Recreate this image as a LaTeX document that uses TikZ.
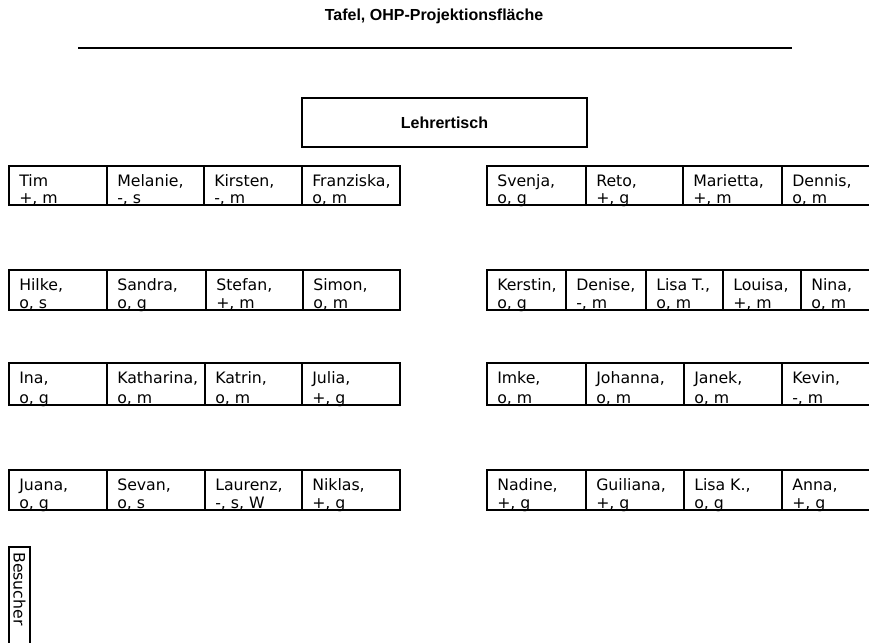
\documentclass[tikz,border=0pt]{standalone}
\usepackage{fontspec}
\setmainfont{Liberation Sans}
\newfontfamily\seatfont{DejaVu Sans}
\tikzset{
  seatline/.style={draw=black, line width=1.1pt},
  seattext/.style={inner sep=0pt, font=\seatfont\fontsize{11.8}{13}\selectfont},
  headtext/.style={inner sep=0pt, font=\bfseries\fontsize{12}{14}\selectfont},
}
% \seat{name}{x1}{x2}{y1}{y2}{line1}{line2}
\newcommand\seat[7]{%
  \draw[seatline] (#2,#4) rectangle (#3,#5);
  \node[seattext, anchor=base west] (#1a) at (#2+10,#4+20) {#6};
  \node[seattext, anchor=base west] (#1b) at (#2+10,#5-2) {#7};
}
\begin{document}
\begin{tikzpicture}[x=0.75pt,y=-0.75pt]
\useasboundingbox (0,0) rectangle (869,643);
\clip (0,0) rectangle (869,643);
% board
\node[headtext] (tafel) at (434,16) {Tafel, OHP-Projektionsfläche};
\coordinate (lineL) at (78,48);
\coordinate (lineR) at (792,48);
\draw[line width=1.5pt] (lineL) -- (lineR);
% teacher desk
\node[draw, line width=1.3pt, minimum width=285*0.75pt, minimum height=49*0.75pt, headtext] (lehrer) at (444.5,122.5) {Lehrertisch};
% row 1
\seat{a1}{9}{107}{166}{205}{Tim}{+, m}
\seat{a2}{107}{204}{166}{205}{Melanie,}{-, s}
\seat{a3}{204}{302}{166}{205}{Kirsten,}{-, m}
\seat{a4}{302}{400}{166}{205}{Franziska,}{o, m}
\seat{b1}{487}{586}{166}{205}{Svenja,}{o, g}
\seat{b2}{586}{683}{166}{205}{Reto,}{+, g}
\seat{b3}{683}{782}{166}{205}{Marietta,}{+, m}
\seat{b4}{782}{885}{166}{205}{Dennis,}{o, m}
% row 2
\seat{c1}{9}{107}{270}{310}{Hilke,}{o, s}
\seat{c2}{107}{206}{270}{310}{Sandra,}{o, g}
\seat{c3}{206}{303}{270}{310}{Stefan,}{+, m}
\seat{c4}{303}{400}{270}{310}{Simon,}{o, m}
\seat{d1}{487}{566}{270}{310}{Kerstin,}{o, g}
\seat{d2}{566}{646}{270}{310}{Denise,}{-, m}
\seat{d3}{646}{723}{270}{310}{Lisa T.,}{o, m}
\seat{d4}{723}{801}{270}{310}{Louisa,}{+, m}
\seat{d5}{801}{885}{270}{310}{Nina,}{o, m}
% row 3
\seat{e1}{9}{107}{363}{405}{Ina,}{o, g}
\seat{e2}{107}{205}{363}{405}{Katharina,}{o, m}
\seat{e3}{205}{302}{363}{405}{Katrin,}{o, m}
\seat{e4}{302}{400}{363}{405}{Julia,}{+, g}
\seat{f1}{487}{586}{363}{405}{Imke,}{o, m}
\seat{f2}{586}{684}{363}{405}{Johanna,}{o, m}
\seat{f3}{684}{782}{363}{405}{Janek,}{o, m}
\seat{f4}{782}{885}{363}{405}{Kevin,}{-, m}
% row 4
\seat{g1}{9}{107}{470}{510}{Juana,}{o, g}
\seat{g2}{107}{205}{470}{510}{Sevan,}{o, s}
\seat{g3}{205}{302}{470}{510}{Laurenz,}{-, s, W}
\seat{g4}{302}{400}{470}{510}{Niklas,}{+, g}
\seat{h1}{487}{586}{470}{510}{Nadine,}{+, g}
\seat{h2}{586}{684}{470}{510}{Guiliana,}{+, g}
\seat{h3}{684}{782}{470}{510}{Lisa K.,}{o, g}
\seat{h4}{782}{885}{470}{510}{Anna,}{+, g}
% visitor
\draw[seatline] (9,547) rectangle (30,660);
\node[seattext, rotate=-90, anchor=west] (besucher) at (19.5,552) {Besucher};
\end{tikzpicture}
\end{document}
